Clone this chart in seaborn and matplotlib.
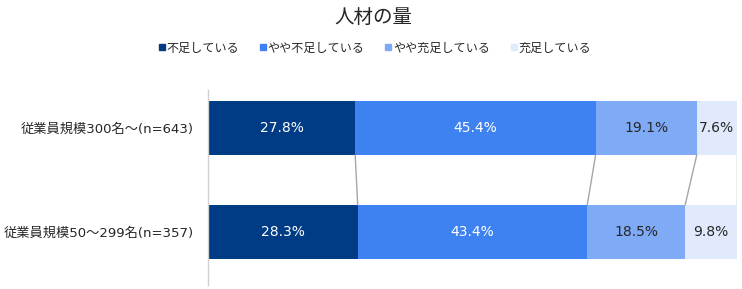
import matplotlib
matplotlib.use("Agg")
import matplotlib.pyplot as plt
import seaborn as sns
import numpy as np
import pandas as pd
from matplotlib.lines import Line2D

sns.set_style("white")
plt.rcParams['font.family'] = ['DejaVu Sans', 'Noto Sans CJK JP']

title = "人材の量"
categories = ["従業員規模300名～(n=643)", "従業員規模50～299名(n=357)"]
series_names = ["不足している", "やや不足している", "やや充足している", "充足している"]
values = {
    "不足している": [27.8, 28.3],
    "やや不足している": [45.4, 43.4],
    "やや充足している": [19.1, 18.5],
    "充足している": [7.6, 9.8],
}
colors = ["#003B85", "#3E82F2", "#7FAAF6", "#E1EAFC"]
text_colors = ["white", "white", "#262626", "#262626"]

fig = plt.figure(figsize=(7.42, 2.89), dpi=100)
ax = fig.add_axes([208/742, 4/289, 529/742, 195/289])

vals = np.array([values[s] for s in series_names])  # (4, 2)
cum = np.cumsum(vals, axis=0)
total = cum[-1]
scale = 100.0 / total
cum_s = cum * scale
starts = np.vstack([np.zeros(len(categories)), cum_s[:-1]])

# draw stacked bars from the outermost (cumulative) inward
for i in range(len(series_names) - 1, -1, -1):
    df = pd.DataFrame({"cat": categories, "cum": cum_s[i]})
    sns.barplot(data=df, y="cat", x="cum", orient="h", color=colors[i],
                saturation=1, width=0.52, ax=ax, edgecolor="none", linewidth=0)

# connector lines
hb = 0.26
for i in range(len(series_names)):
    ax.add_line(Line2D([cum_s[i][0], cum_s[i][1]], [0 + hb, 1 - hb],
                       color="#a6a6a6", lw=1.0, zorder=1))

# labels
for i, s in enumerate(series_names):
    for j in range(len(categories)):
        xc = starts[i][j] + (cum_s[i][j] - starts[i][j]) / 2
        ax.text(xc, j, f"{values[s][j]:.1f}%", ha="center", va="center",
                color=text_colors[i], fontsize=10)

ax.set_xlim(0, 100)
ax.set_ylim(1.51, -0.365)
ax.set_xlabel("")
ax.set_ylabel("")
ax.set_xticks([])
ax.tick_params(axis="y", length=0, labelsize=9.5, pad=10, colors="#262626")
for sp in ["top", "right", "bottom"]:
    ax.spines[sp].set_visible(False)
ax.spines["left"].set_color("#d0d0d0")
ax.spines["left"].set_linewidth(1.0)

fig.text(373/742, 1 - 17/289, title, ha="center", va="center", fontsize=14, color="#262626")

handles = [Line2D([], [], marker="s", linestyle="none", markersize=4.5,
                  markerfacecolor=c, markeredgecolor=c) for c in colors]
fig.legend(handles, series_names, loc="center", bbox_to_anchor=(375/742, 1 - 48/289),
           ncol=4, frameon=False, fontsize=8.7, handletextpad=0.15, columnspacing=1.7,
           handlelength=0.5, labelcolor="#262626")

fig.savefig("out.png", dpi=100)
